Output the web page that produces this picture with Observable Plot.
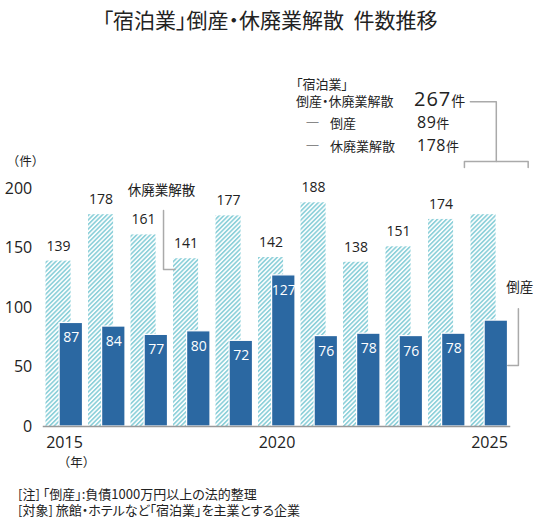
<!DOCTYPE html>
<html>
<head>
<meta charset="utf-8">
<script src="https://cdn.jsdelivr.net/npm/d3@7"></script>
<script src="https://cdn.jsdelivr.net/npm/@observablehq/plot@0.6"></script>
<style>
  body { margin: 0; background: #fff; }
  #wrap { position: relative; width: 540px; height: 523px; font-family: 'Open Sans', 'Noto Sans CJK JP', sans-serif; color: #222; }
  .abs { position: absolute; white-space: nowrap; line-height: 1; }
  .pre { white-space: pre; }
  #title { top: 9px; left: 0; width: 540px; text-align: center; font-size: 21px; font-family: 'Noto Sans CJK JP', sans-serif; font-feature-settings: "palt"; }
  #chart { position: absolute; top: 40px; left: 0; }
  .jp { font-family: 'Noto Sans CJK JP', sans-serif; font-feature-settings: "palt"; }
  .note { left: 18px; font-size: 13px; line-height: 15.5px; font-family: 'Noto Sans CJK JP', sans-serif; font-feature-settings: "palt"; }
  .dash { color: #888; font-size: 13px; }
</style>
</head>
<body>
<div id="wrap">
  <div id="title" class="abs">「宿泊業」倒産・休廃業解散&nbsp; 件数推移</div>
  <div id="chart"></div>

  <div class="abs jp pre" style="left:296px;top:75px;font-size:13px;line-height:17px;">「宿泊業」
倒産・休廃業解散</div>
  <div class="abs" style="left:414px;top:89px;"><span style="font-size:20px;letter-spacing:1px;">267</span><span class="jp" style="font-size:14px;">件</span></div>

  <div class="abs dash" style="left:306px;top:115px;">―</div>
  <div class="abs jp" style="left:330px;top:116px;font-size:13px;">倒産</div>
  <div class="abs" style="left:417px;top:114px;"><span style="font-size:16px;letter-spacing:0.5px;">89</span><span class="jp" style="font-size:13px;">件</span></div>

  <div class="abs dash" style="left:306px;top:138px;">―</div>
  <div class="abs jp" style="left:330px;top:139px;font-size:13px;">休廃業解散</div>
  <div class="abs" style="left:417px;top:137px;"><span style="font-size:16px;letter-spacing:0.5px;">178</span><span class="jp" style="font-size:13px;">件</span></div>

  <div class="abs note pre" style="top:486px;">[注] 「倒産」:負債1000万円以上の法的整理
[対象] 旅館・ホテルなど「宿泊業」を主業とする企業</div>
</div>
<script>
// ---- data ----
const years = [2015, 2016, 2017, 2018, 2019, 2020, 2021, 2022, 2023, 2024, 2025];
const closures = [139, 178, 161, 141, 177, 142, 188, 138, 151, 174, 178];      // 休廃業解散
const bankruptcies = [87, 84, 77, 80, 72, 127, 76, 78, 76, 78, 89];             // 倒産
const yTicks = [0, 50, 100, 150, 200];
const xTicks = [2015, 2020, 2025];

const data = years.map((year, i) => ({ year, closures: closures[i], bankruptcies: bankruptcies[i] }));
const labelled = data.slice(0, -1);

// bar geometry (in year units, relative to each year's slot)
const hatchL = -0.435, hatchR = 0.155;
const solidL = -0.115, solidR = 0.435;

// annotation anchors
const closureLabel = { x: 2017.28, y: 198.5, text: "休廃業解散" };
const closureLeader = [{ x: 2017.33, y: 181.5 }, { x: 2017.33, y: 132 }, { x: 2017.6, y: 132 }];
const bankLabel = { x: 2025.71, y: 116.8, text: "倒産" };
const bankLeader = [{ x: 2025.68, y: 99 }, { x: 2025.68, y: 51.3 }, { x: 2025.43, y: 51.3 }];
const bracketTop = [{ x: 2024.55, y: 273 }, { x: 2025.16, y: 273 }, { x: 2025.16, y: 222.7 }];
const bracketBottom = [{ x: 2024.41, y: 217.6 }, { x: 2024.41, y: 222.7 }, { x: 2025.91, y: 222.7 }, { x: 2025.91, y: 217.6 }];
const unitY = { x: 2014.08, y: 222, text: "（件）" };
const unitX = { x: 2015.28, y: -30.5, text: "（年）" };

const gray = "#aaaaaa";
const jp = "'Noto Sans CJK JP', sans-serif";

const chart = Plot.plot({
  width: 540,
  height: 435,
  marginLeft: 42.75,
  marginRight: 29.75,
  marginTop: 148,
  marginBottom: 49,
  style: { fontFamily: "'Open Sans','Noto Sans CJK JP',sans-serif", fontSize: "16px", color: "#222", background: "transparent", overflow: "visible" },
  x: { type: "linear", domain: [2014.5, 2025.5], ticks: xTicks, tickFormat: d => String(d), tickSize: 0, tickPadding: 10, label: null },
  y: { domain: [0, 200], ticks: yTicks, tickSize: 0, tickPadding: 11, label: null },
  marks: [
    Plot.rectY(data, { x1: d => d.year + hatchL, x2: d => d.year + hatchR, y1: 0, y2: "closures", fill: "url(#hatch)" }),
    Plot.rectY(data, { x1: d => d.year + solidL, x2: d => d.year + solidR, y1: 0, y2: "bankruptcies", fill: "#2b68a2", stroke: "white", strokeWidth: 1.2 }),
    Plot.ruleY([0], { stroke: "#999", strokeWidth: 1.5 }),
    Plot.text(labelled, { x: d => d.year + (hatchL + hatchR) / 2, y: "closures", text: d => String(d.closures), dy: -15, fontSize: 14, fill: "#222" }),
    Plot.text(labelled, { x: d => d.year + (solidL + solidR) / 2, y: "bankruptcies", text: d => String(d.bankruptcies), dy: 15, fontSize: 14, fill: "white" }),
    Plot.line(closureLeader, { x: "x", y: "y", stroke: gray, strokeWidth: 1.5 }),
    Plot.line(bankLeader, { x: "x", y: "y", stroke: gray, strokeWidth: 1.5 }),
    Plot.line(bracketTop, { x: "x", y: "y", stroke: gray, strokeWidth: 1.5 }),
    Plot.line(bracketBottom, { x: "x", y: "y", stroke: gray, strokeWidth: 1.5 }),
    Plot.text([closureLabel, bankLabel], { x: "x", y: "y", text: "text", fontSize: 13.5, fontFamily: jp, fill: "#222" }),
    Plot.text([unitY, unitX], { x: "x", y: "y", text: "text", fontSize: 12.5, fontFamily: jp, fill: "#222" })
  ]
});

const svg = d3.select(chart);
const defs = svg.insert("defs", ":first-child");
const pat = defs.append("pattern")
  .attr("id", "hatch")
  .attr("patternUnits", "userSpaceOnUse")
  .attr("width", 3.2).attr("height", 3.2)
  .attr("patternTransform", "rotate(45)");
pat.append("rect").attr("width", 3.2).attr("height", 3.2).attr("fill", "#ffffff");
pat.append("rect").attr("width", 1.7).attr("height", 3.2).attr("fill", "#8fd1da");

document.getElementById("chart").appendChild(chart);
</script>
</body>
</html>
